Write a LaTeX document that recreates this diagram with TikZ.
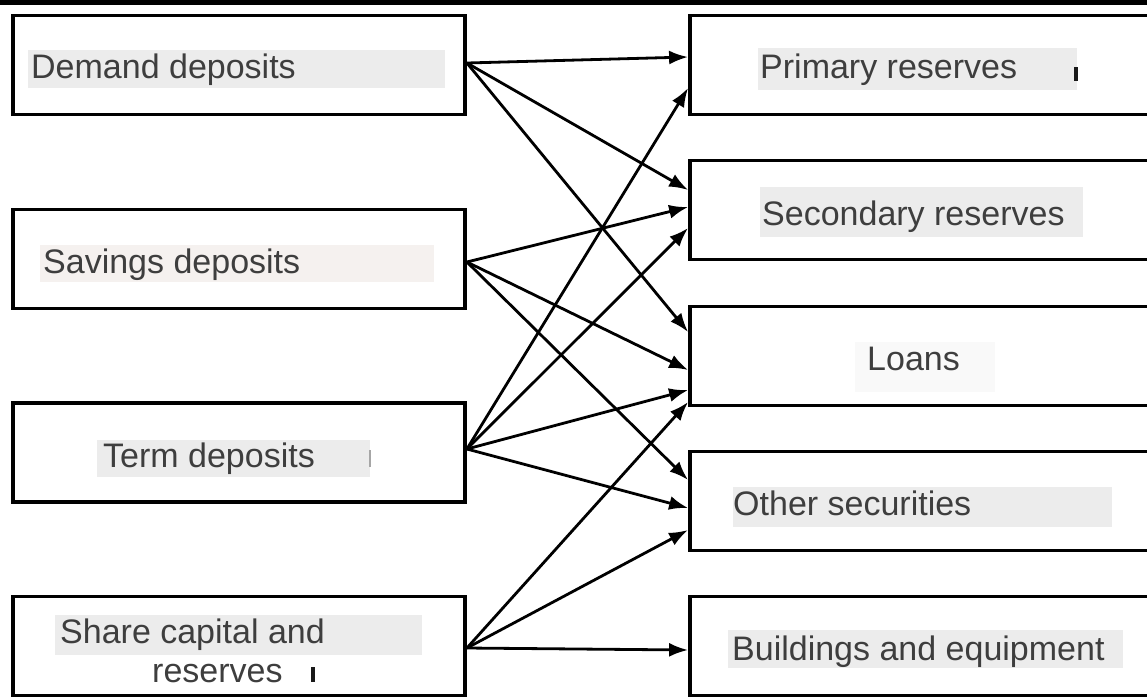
\documentclass[tikz,border=0pt]{standalone}
\usepackage{fontspec}
\setmainfont{Liberation Sans}
\usetikzlibrary{arrows.meta}
\definecolor{txt}{RGB}{62,62,62}
\definecolor{hl}{RGB}{236,236,236}
\definecolor{hlp}{RGB}{245,241,239}
\definecolor{hlf}{RGB}{249,249,249}
\begin{document}
\begin{tikzpicture}[x=1pt,y=-1pt,
  box/.style={draw=black, line width=3.8pt, minimum width=452pt, minimum height=99pt, inner sep=0pt},
  rbox/.style={box, minimum width=475pt},
  lbl/.style={anchor=base west, inner sep=0pt, text=txt, font=\fontsize{34}{40}\selectfont},
  link/.style={line width=2.8pt, -{Latex[length=19pt,width=14pt]}},
  cursorbar/.style={line width=3.5pt, draw=black!90}
]
\clip (0,0) rectangle (1147,697);
\fill[white] (0,0) rectangle (1147,697);

% highlight backgrounds
\fill[hl] (28,50) rectangle (445,88);
\fill[hlp] (40,245) rectangle (434,282);
\fill[hl] (97,440) rectangle (370,477);
\fill[hl] (55,615) rectangle (422,655);
\fill[hl] (758,48) rectangle (1077,90);
\fill[hl] (760,187) rectangle (1083,237);
\fill[hlf] (855,342) rectangle (995,392);
\fill[hl] (733,487) rectangle (1112,527);
\fill[hl] (728,630) rectangle (1123,668);

% boxes
\node[box] (dd) at (239,65) {};
\node[box] (sd) at (239,259) {};
\node[box] (td) at (239,452.5) {};
\node[box] (sc) at (239,646) {};
\node[rbox] (pr) at (927.5,65) {};
\node[rbox] (sr) at (927.5,210) {};
\node[rbox] (lo) at (927.5,356) {};
\node[rbox] (os) at (927.5,501) {};
\node[rbox] (be) at (927.5,646) {};

% labels
\node[lbl] (tdd) at (31,78) {Demand deposits};
\node[lbl] (tsd) at (43,273) {Savings deposits};
\node[lbl] (ttd) at (103,467) {Term deposits};
\node[lbl] (tsc1) at (60,643) {Share capital and};
\node[lbl] (tsc2) at (152,682) {reserves};
\node[lbl] (tpr) at (760,78) {Primary reserves};
\node[lbl] (tsr) at (762,225) {Secondary reserves};
\node[lbl] (tlo) at (867,370) {Loans};
\node[lbl] (tos) at (733,515) {Other securities};
\node[lbl] (tbe) at (732,660) {Buildings and equipment};

% small cursor marks
\draw[cursorbar] (1076,67) -- (1076,81);
\draw[cursorbar] (313,667) -- (313,682);
\draw[line width=1.2pt, draw=black!35] (370,450) -- (370,467);

% connectors
\draw[link] ([yshift=2pt]dd.east) -- ([yshift=8pt]pr.west);
\draw[link] ([yshift=2pt]dd.east) -- ([yshift=20pt]sr.west);
\draw[link] ([yshift=2pt]dd.east) -- ([yshift=24pt]lo.west);

\draw[link] ([yshift=-3pt]sd.east) -- ([yshift=3pt]sr.west);
\draw[link] ([yshift=-3pt]sd.east) -- ([yshift=-14pt]lo.west);
\draw[link] ([yshift=-3pt]sd.east) -- ([yshift=21pt]os.west);

\draw[link] ([yshift=3.5pt]td.east) -- ([yshift=-23pt]pr.west);
\draw[link] ([yshift=3.5pt]td.east) -- ([yshift=-18pt]sr.west);
\draw[link] ([yshift=3.5pt]td.east) -- ([yshift=-34pt]lo.west);
\draw[link] ([yshift=3.5pt]td.east) -- ([yshift=-7pt]os.west);

\draw[link] ([yshift=-2pt]sc.east) -- ([yshift=-46pt]lo.west);
\draw[link] ([yshift=-2pt]sc.east) -- ([yshift=-29pt]os.west);
\draw[link] ([yshift=-2pt]sc.east) -- ([yshift=-4pt]be.west);

% top band
\fill[black] (0,0) rectangle (1147,5);
\end{tikzpicture}
\end{document}
